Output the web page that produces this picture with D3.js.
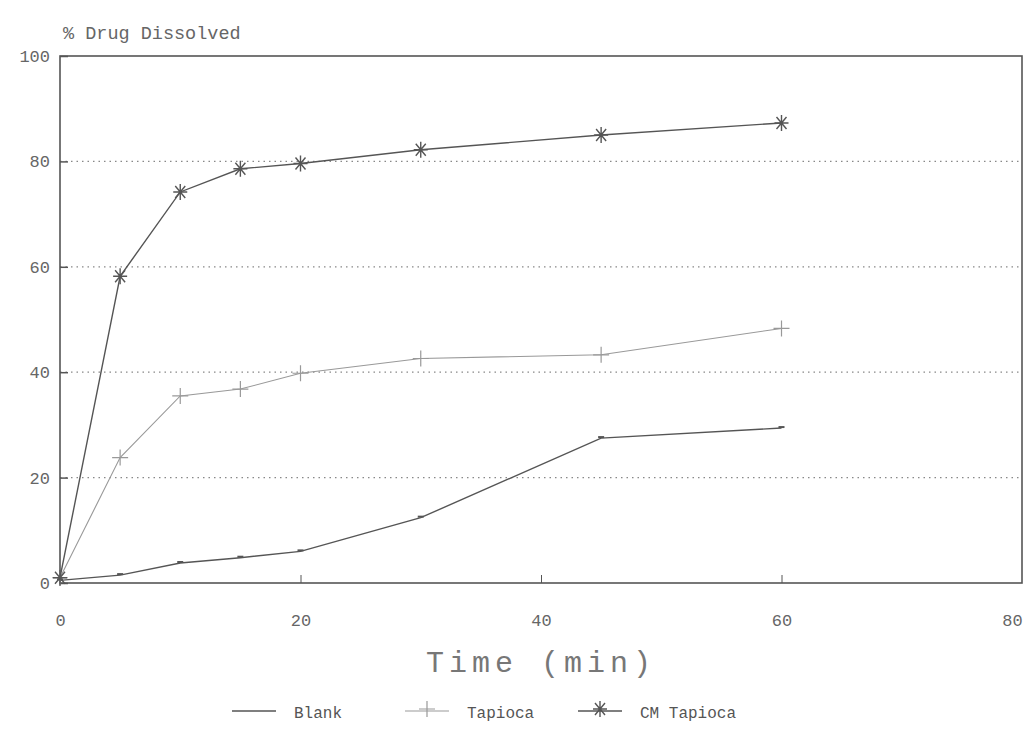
<!DOCTYPE html>
<html><head><meta charset="utf-8">
<script src="https://cdn.jsdelivr.net/npm/d3@7"></script>
<style>body{margin:0;background:#fff}svg{display:block}</style>
</head><body>
<svg id="c" width="1034" height="737"></svg>
<script>
const times = [0, 5, 10, 15, 20, 30, 45, 60];
const blank = [0.5, 1.5, 3.8, 4.8, 6, 12.4, 27.5, 29.4];
const tapioca = [1, 23.8, 35.5, 36.8, 39.8, 42.6, 43.3, 48.3];
const cmTapioca = [1, 58.2, 74.2, 78.6, 79.6, 82.2, 85, 87.3];
const xTicks = [0, 20, 40, 60, 80];
const yTicks = [0, 20, 40, 60, 80, 100];
const seriesNames = ["Blank", "Tapioca", "CM Tapioca"];

const svg = d3.select("#c");
const L = 60, R = 1022, T = 56, B = 583;
const x = d3.scaleLinear().domain([0, 80]).range([L, R]);
const y = d3.scaleLinear().domain([0, 100]).range([B, T]);
const font = "'Liberation Mono', 'DejaVu Sans Mono', monospace";
const ink = "#555";

// gridlines (dotted)
svg.append("g").selectAll("line").data(yTicks.filter(v => v > 0 && v < 100)).join("line")
  .attr("x1", L).attr("x2", R).attr("y1", d => y(d)).attr("y2", d => y(d))
  .attr("stroke", "#888").attr("stroke-width", 1.3).attr("stroke-dasharray", "1.5,4");

// frame
svg.append("rect").attr("x", L).attr("y", T).attr("width", R - L).attr("height", B - T)
  .attr("fill", "none").attr("stroke", ink).attr("stroke-width", 1.6);

// y axis
const yAxis = d3.axisLeft(y).tickValues(yTicks).tickSize(-8).tickPadding(10).tickFormat(d3.format("d"));
const gy = svg.append("g").attr("transform", `translate(${L},0)`).call(yAxis);
gy.select(".domain").remove();
gy.selectAll(".tick line").attr("stroke", ink).attr("stroke-width", 1.5);
gy.selectAll(".tick text").attr("fill", "#666").attr("font-family", font).attr("font-size", 17);

// x axis
const xAxis = d3.axisBottom(x).tickValues(xTicks).tickSize(-8).tickPadding(31).tickFormat(d3.format("d"));
const gx = svg.append("g").attr("transform", `translate(0,${B})`).call(xAxis);
gx.select(".domain").remove();
gx.selectAll(".tick line").attr("stroke", ink).attr("stroke-width", 1).filter(d => d === 0 || d === 80).remove();
gx.selectAll(".tick text").attr("fill", "#666").attr("font-family", font).attr("font-size", 17)
  .attr("dx", d => d === 80 ? -10 : 0);

// labels
svg.append("text").attr("x", 63).attr("y", 39).text("% Drug Dissolved")
  .attr("font-family", font).attr("font-size", 18.5).attr("fill", "#666");
svg.append("text").attr("x", 541).attr("y", 672).attr("text-anchor", "middle")
  .text("Time (min)").attr("font-family", font).attr("font-size", 30)
  .attr("letter-spacing", 5).attr("fill", "#777");

const line = d3.line().x(d => x(d[0])).y(d => y(d[1]));
const series = [
  { name: seriesNames[0], vals: blank, color: "#555", w: 1.4, marker: "dash" },
  { name: seriesNames[1], vals: tapioca, color: "#999", w: 1.1, marker: "plus" },
  { name: seriesNames[2], vals: cmTapioca, color: "#555", w: 1.4, marker: "star" }
];

function drawMarker(g, type, cx, cy, color) {
  if (type === "plus") {
    g.append("path").attr("d", `M${cx-8},${cy}H${cx+8}M${cx},${cy-8}V${cy+8}`)
      .attr("stroke", color).attr("stroke-width", 1.2).attr("fill", "none");
  } else if (type === "star") {
    g.append("path").attr("d", `M${cx-7},${cy}H${cx+7}M${cx},${cy-8}V${cy+8}M${cx-5},${cy-6}L${cx+5},${cy+6}M${cx+5},${cy-6}L${cx-5},${cy+6}`)
      .attr("stroke", color).attr("stroke-width", 1.4).attr("fill", "none");
  } else {
    g.append("path").attr("d", `M${cx-3},${cy-1}H${cx+3}`)
      .attr("stroke", color).attr("stroke-width", 2).attr("fill", "none");
  }
}

series.forEach(s => {
  const pts = times.map((t, i) => [t, s.vals[i]]);
  svg.append("path").datum(pts).attr("d", line).attr("fill", "none")
    .attr("stroke", s.color).attr("stroke-width", s.w);
  const g = svg.append("g");
  pts.forEach(p => drawMarker(g, s.marker, x(p[0]), y(p[1]), s.color));
});

// legend
const legX = [232, 405, 578];
const lg = svg.append("g");
series.forEach((s, i) => {
  const x0 = legX[i], yy = 711;
  lg.append("line").attr("x1", x0).attr("x2", x0 + 44).attr("y1", yy).attr("y2", yy)
    .attr("stroke", s.color).attr("stroke-width", s.w);
  if (s.marker !== "dash") drawMarker(lg, s.marker, x0 + 22, yy - 2, s.color);
  lg.append("text").attr("x", x0 + 62).attr("y", yy + 7).text(s.name)
    .attr("font-family", font).attr("font-size", 16).attr("fill", "#555");
});
</script>
</body></html>
